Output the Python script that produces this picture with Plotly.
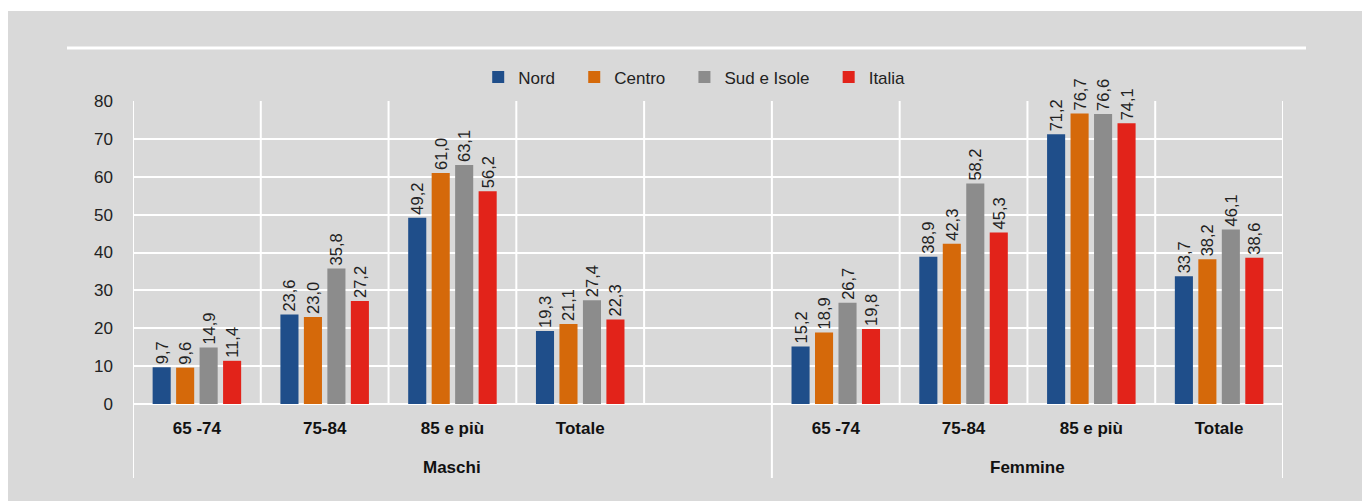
import plotly.graph_objects as go

categories = ["65 -74", "75-84", "85 e più", "Totale"]
groups = ["Maschi", "Femmine"]
series_names = ["Nord", "Centro", "Sud e Isole", "Italia"]
maschi = {
    "Nord": [9.7, 23.6, 49.2, 19.3],
    "Centro": [9.6, 23.0, 61.0, 21.1],
    "Sud e Isole": [14.9, 35.8, 63.1, 27.4],
    "Italia": [11.4, 27.2, 56.2, 22.3],
}
femmine = {
    "Nord": [15.2, 38.9, 71.2, 33.7],
    "Centro": [18.9, 42.3, 76.7, 38.2],
    "Sud e Isole": [26.7, 58.2, 76.6, 46.1],
    "Italia": [19.8, 45.3, 74.1, 38.6],
}
colors = {"Nord": "#1F4E8A", "Centro": "#D5690A", "Sud e Isole": "#8C8C8C", "Italia": "#E2231A"}
y_ticks = [0, 10, 20, 30, 40, 50, 60, 70, 80]

FONT = "Liberation Sans Narrow, Arial Narrow, Liberation Sans, Arial, sans-serif"
BG = "#D9D9D9"

# slots: Maschi 4 categories + one empty slot, then Femmine 4 categories
n_m = len(categories)
x_m = list(range(n_m))
x_f = [n_m + 1 + i for i in range(len(categories))]
n_slots = n_m + 1 + len(categories)

fig = go.Figure()
for k, s in enumerate(series_names):
    pad = "\u00a0" * 3 if k < len(series_names) - 1 else ""
    fig.add_trace(go.Bar(
        name=s + pad,
        x=x_m + x_f,
        y=maschi[s] + femmine[s],
        marker=dict(color=colors[s], line=dict(width=0)),
        texttemplate="%{y:.1f}",
        textposition="outside",
        textangle=-90,
        constraintext="none",
        textfont=dict(family=FONT, size=16.5, color="#222222"),
        cliponaxis=False,
        hoverinfo="skip",
    ))

shapes = []
# vertical category boundaries
for i in range(n_slots + 1):
    xb = i - 0.5
    long = i in (0, n_m + 1, n_slots)
    shapes.append(dict(type="line", xref="x", yref="paper", x0=xb, x1=xb,
                       y0=(-0.244 if long else 0), y1=1,
                       line=dict(color="white", width=2), layer="below"))
# top white rule
shapes.append(dict(type="line", xref="paper", yref="paper", x0=-0.0574, x1=1.02, y0=1.175, y1=1.175,
                   line=dict(color="white", width=3)))
# white page border strips (top and left)
shapes.append(dict(type="rect", xref="paper", yref="paper", x0=-0.2, x1=1.2, y0=1.297, y1=1.5,
                   fillcolor="white", line=dict(width=0)))
shapes.append(dict(type="rect", xref="paper", yref="paper", x0=-0.2, x1=-0.1087, y0=-0.5, y1=1.5,
                   fillcolor="white", line=dict(width=0)))

annotations = []
group_centers = [(-0.5 + n_m + 0.5) / 2, (n_m + 0.5 + n_slots - 0.5) / 2]
for g, c in zip(groups, group_centers):
    annotations.append(dict(text="<b>%s</b>" % g, x=c, xref="x", y=-0.208, yref="paper",
                            showarrow=False, xanchor="center", yanchor="middle",
                            font=dict(family=FONT, size=17, color="#111111")))

fig.update_layout(
    width=1362, height=501,
    margin=dict(l=133, r=79, t=101, b=97),
    paper_bgcolor=BG,
    plot_bgcolor=BG,
    separators=",.",
    barmode="group",
    bargap=0.265,
    bargroupgap=0.23,
    font=dict(family=FONT, size=17, color="#222222"),
    showlegend=True,
    legend=dict(orientation="h", x=0.488, xanchor="center", y=1.078, yanchor="middle",
                bgcolor="rgba(0,0,0,0)", font=dict(family=FONT, size=17, color="#222222"),
                itemwidth=30, traceorder="normal"),
    shapes=shapes,
    annotations=annotations,
)
fig.update_xaxes(
    range=[-0.5, n_slots - 0.5],
    tickmode="array",
    tickvals=x_m + x_f,
    ticktext=["<b>%s</b>" % c for c in categories] * 2,
    showgrid=False, zeroline=False, showline=False, ticks="",
    ticklabelstandoff=12,
    tickfont=dict(family=FONT, size=17, color="#111111"),
)
fig.update_yaxes(
    range=[0, 80],
    tickmode="array", tickvals=y_ticks,
    showgrid=True, gridcolor="white", gridwidth=2,
    zeroline=True, zerolinecolor="white", zerolinewidth=2,
    showline=False, ticks="",
    ticklabelstandoff=19,
    tickfont=dict(family=FONT, size=17, color="#222222"),
)

fig.write_html("out.html")
